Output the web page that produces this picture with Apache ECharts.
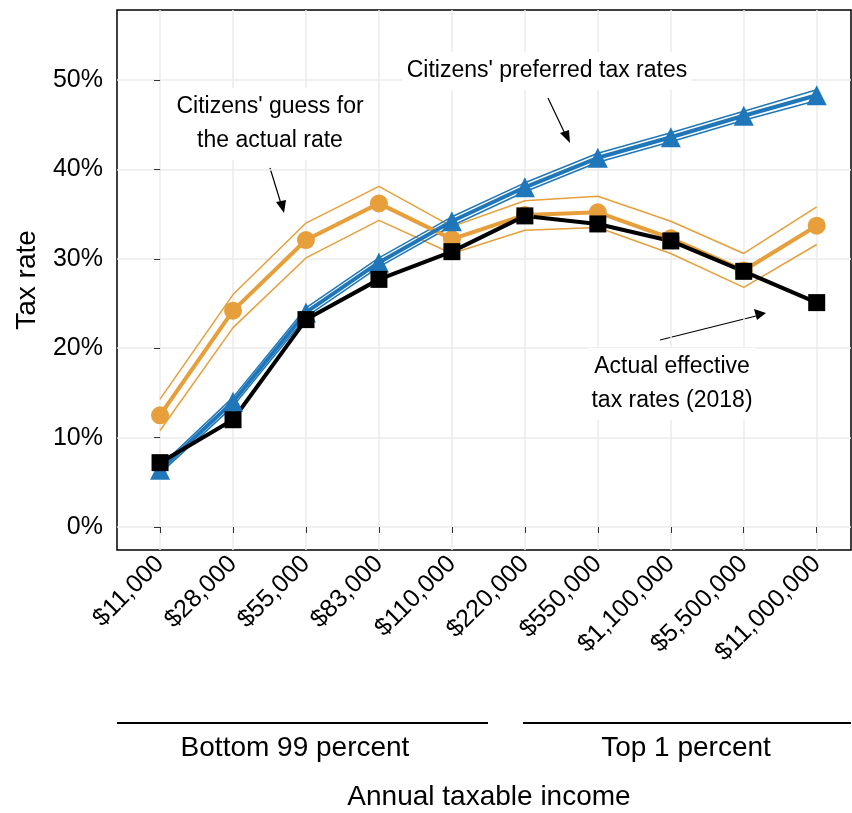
<!DOCTYPE html>
<html>
<head>
<meta charset="utf-8">
<script src="https://cdn.jsdelivr.net/npm/echarts@6/dist/echarts.min.js"></script>
<style>body{margin:0;background:#fff}#main{width:852px;height:813px}</style>
</head>
<body>
<div id="main"></div>
<script>
var incomes = ['$11,000','$28,000','$55,000','$83,000','$110,000','$220,000','$550,000','$1,100,000','$5,500,000','$11,000,000'];
var actual = [7.2, 12.0, 23.2, 27.7, 30.8, 34.8, 33.9, 32.0, 28.6, 25.1];
var preferred = [6.4, 14.0, 24.0, 29.6, 34.2, 38.0, 41.3, 43.6, 46.0, 48.3];
var prefHigh = [6.8, 14.5, 24.5, 30.1, 34.7, 38.5, 41.8, 44.1, 46.5, 48.9];
var prefLow = [6.0, 13.5, 23.5, 29.1, 33.7, 37.5, 40.8, 43.1, 45.5, 47.7];
var guess = [12.5, 24.2, 32.1, 36.2, 32.2, 34.9, 35.2, 32.3, 28.7, 33.7];
var guessHigh = [14.3, 26.0, 34.0, 38.1, 33.6, 36.5, 37.0, 34.2, 30.6, 35.8];
var guessLow = [10.8, 22.3, 30.1, 34.3, 30.6, 33.2, 33.5, 30.6, 26.8, 31.6];

function pts(arr){ return arr.map(function(v,i){ return [i, v]; }); }
var idx = incomes.map(function(c,i){ return i; });
var font = 'Liberation Sans, Arial, sans-serif';
var orange = '#E69F3A', blue = '#1F77B9';

function note(text, x, y){
  return { type: 'text', z: 50, style: { text: text, x: x, y: y, fontSize: 23, lineHeight: 34, fontFamily: font, fill: '#000',
    align: 'center', verticalAlign: 'middle', backgroundColor: '#fff', padding: [2, 4] } };
}
function big(text, x, y){
  return { type: 'text', style: { text: text, x: x, y: y, fontSize: 28, fontFamily: font, fill: '#000', align: 'center', verticalAlign: 'middle' } };
}

var chart = echarts.init(document.getElementById('main'));
chart.setOption({
  animation: false,
  grid: { left: 117, right: 1, top: 10, bottom: 263, show: true, borderColor: '#000', borderWidth: 1.5,
    containLabel: false, outerBoundsMode: 'none' },
  xAxis: {
    type: 'value', min: -0.59, max: 9.47,
    axisLine: { show: false },
    axisTick: { show: true, customValues: idx, length: 6, lineStyle: { color: '#333' } },
    axisLabel: { customValues: idx, rotate: 45, fontSize: 25, color: '#000', fontFamily: font, margin: 10,
      formatter: function(v){ return incomes[Math.round(v)]; } },
    splitLine: { show: true, lineStyle: { color: '#ebebeb', width: 1.5 } }
  },
  yAxis: {
    type: 'value', min: -2.57, max: 57.83,
    name: 'Tax rate', nameLocation: 'middle', nameGap: 76,
    nameTextStyle: { fontSize: 28, color: '#000', fontFamily: font },
    axisLine: { show: false },
    axisTick: { show: true, customValues: [0,10,20,30,40,50], length: 6, lineStyle: { color: '#333' } },
    axisLabel: { customValues: [0,10,20,30,40,50], fontSize: 25, color: '#000', fontFamily: font, margin: 14,
      formatter: function(v){ return v + '%'; } },
    splitLine: { show: true, lineStyle: { color: '#ebebeb', width: 1.5 } }
  },
  series: [
    { type: 'line', data: pts(guessHigh), symbol: 'none', lineStyle: { color: orange, width: 1.5 } },
    { type: 'line', data: pts(guessLow), symbol: 'none', lineStyle: { color: orange, width: 1.5 } },
    { type: 'line', data: pts(prefHigh), symbol: 'none', lineStyle: { color: blue, width: 1.5 } },
    { type: 'line', data: pts(prefLow), symbol: 'none', lineStyle: { color: blue, width: 1.5 } },
    { type: 'line', data: pts(guess), symbol: 'circle', symbolSize: 18, itemStyle: { color: orange }, lineStyle: { color: orange, width: 4 } },
    { type: 'line', data: pts(preferred), symbol: 'triangle', symbolSize: 20, itemStyle: { color: blue }, lineStyle: { color: blue, width: 4 } },
    { type: 'line', data: pts(actual), symbol: 'rect', symbolSize: 17, itemStyle: { color: '#000' }, lineStyle: { color: '#000', width: 4 } }
  ],
  graphic: [
    note("Citizens' preferred tax rates", 547, 71),
    note("Citizens' guess for\nthe actual rate", 270, 124),
    note("Actual effective\ntax rates (2018)", 672, 384),
    { type: 'line', shape: { x1: 548, y1: 98, x2: 567, y2: 138 }, style: { stroke: '#000', lineWidth: 1.2 } },
    { type: 'polygon', shape: { points: [[570,143],[560,133],[569,130]] }, style: { fill: '#000' } },
    { type: 'line', shape: { x1: 270, y1: 168, x2: 282, y2: 207 }, style: { stroke: '#000', lineWidth: 1.2 } },
    { type: 'polygon', shape: { points: [[284,213],[276,202],[286,200]] }, style: { fill: '#000' } },
    { type: 'line', shape: { x1: 660, y1: 340, x2: 760, y2: 315 }, style: { stroke: '#000', lineWidth: 1.2 } },
    { type: 'polygon', shape: { points: [[766,313],[754,309],[757,320]] }, style: { fill: '#000' } },
    { type: 'line', shape: { x1: 117, y1: 723, x2: 488, y2: 723 }, style: { stroke: '#000', lineWidth: 2 } },
    { type: 'line', shape: { x1: 523, y1: 723, x2: 851, y2: 723 }, style: { stroke: '#000', lineWidth: 2 } },
    big('Bottom 99 percent', 295, 748),
    big('Top 1 percent', 686, 748),
    big('Annual taxable income', 489, 797)
  ]
});
</script>
</body>
</html>
